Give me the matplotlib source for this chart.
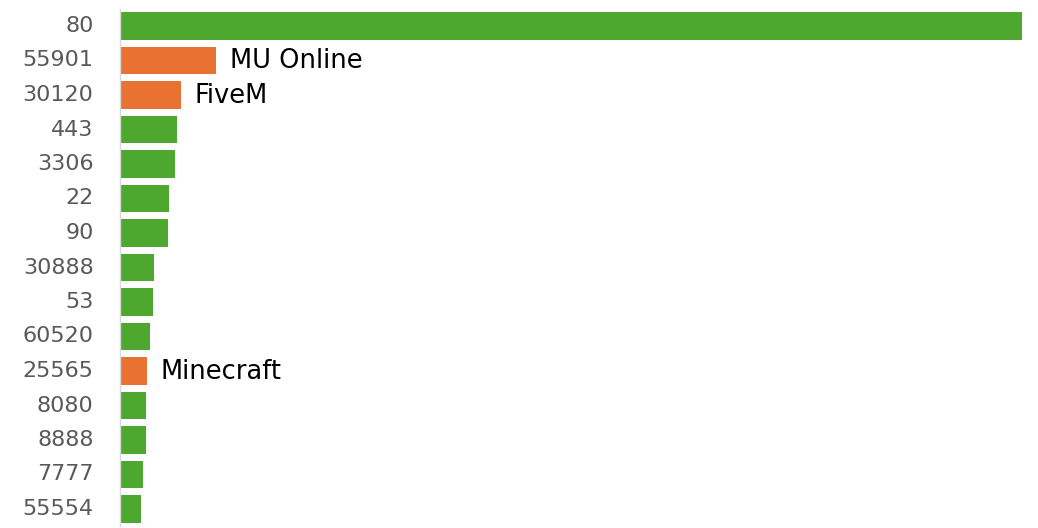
import matplotlib
matplotlib.use("Agg")
import matplotlib.pyplot as plt
import matplotlib.transforms as mtransforms

plt.rcParams["font.family"] = ["DejaVu Sans"]

GREEN = "#4EA72E"
ORANGE = "#E97132"

# ports, top to bottom, with bar lengths (arbitrary units)
ports = ["80", "55901", "30120", "443", "3306", "22", "90", "30888", "53",
         "60520", "25565", "8080", "8888", "7777", "55554"]
counts = [901, 96, 61, 57, 55, 49, 48, 34, 33, 30, 27, 26, 26, 23, 21]
# game servers get the orange highlight and a label
games = {"55901": "MU Online", "30120": "FiveM", "25565": "Minecraft"}

fig = plt.figure(figsize=(10.38, 5.28), dpi=100)
ax = fig.add_axes([120 / 1038, 1.75 / 528, 902 / 1038, 517.5 / 528])

ypos = list(range(len(ports)))
colors = [ORANGE if p in games else GREEN for p in ports]
ax.barh(ypos, counts, height=0.8, color=colors)

for y, p, c in zip(ypos, ports, counts):
    if p in games:
        ax.annotate(games[p], (c, y), xytext=(10, -0.5), textcoords="offset points",
                    va="center", ha="left", fontsize=18.5, color="black")

ax.set_yticks(ypos)
ax.set_yticklabels(ports, fontsize=16, color="#595959")
ax.tick_params(axis="y", length=0, pad=19)
# labels sit a touch above the bar centres in the original
nudge = mtransforms.ScaledTranslation(0, 2 / 100, fig.dpi_scale_trans)
for lbl in ax.get_yticklabels():
    lbl.set_transform(lbl.get_transform() + nudge)
ax.set_xticks([])
ax.set_ylim(len(ports) - 0.5, -0.5)
ax.set_xlim(0, max(counts))

for side in ["top", "right", "bottom"]:
    ax.spines[side].set_visible(False)
ax.spines["left"].set_color("#D9D9D9")
ax.spines["left"].set_linewidth(1.0)

fig.savefig("out.png", dpi=100)
